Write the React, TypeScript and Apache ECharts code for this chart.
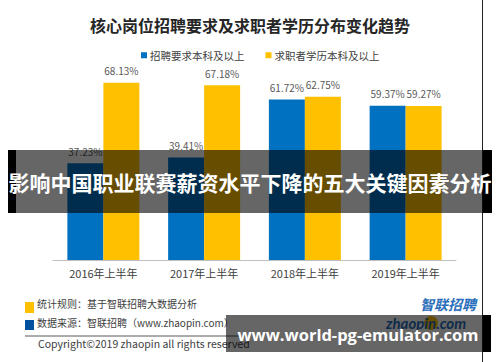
import React, { useEffect, useRef } from "react";
import * as echarts from "echarts";

const categories = ["2016年上半年", "2017年上半年", "2018年上半年", "2019年上半年"];
const seriesNames = ["招聘要求本科及以上", "求职者学历本科及以上"];
const requirementValues = [37.23, 39.41, 61.72, 59.37];
const applicantValues = [68.13, 67.18, 62.75, 59.27];
const titleText = "核心岗位招聘要求及求职者学历分布变化趋势";
const bannerText = "影响中国职业联赛薪资水平下降的五大关键因素分析";
const footerRule = "统计规则：基于智联招聘大数据分析";
const footerSource = "数据来源：智联招聘（www.zhaopin.com）";
const copyrightText = "Copyright©2019 zhaopin all rights reserved";
const siteText = "www.world-pg-emulator.com";

const FONT = "'Noto Sans CJK SC', 'Noto Sans', sans-serif";
const BLUE = "#0070c0";
const YELLOW = "#ffc000";

export default function App() {
  const ref = useRef<HTMLDivElement>(null);
  useEffect(() => {
    if (!ref.current) return;
    const chart = echarts.init(ref.current, undefined, { renderer: "svg" });
    const labelCfg = {
      show: true,
      position: "top",
      distance: 7,
      fontSize: 10,
      color: "#595959",
      fontFamily: FONT,
      formatter: (p: any) => Number(p.value).toFixed(2) + "%",
    };
    chart.setOption({
      animation: false,
      backgroundColor: "#ffffff",
      textStyle: { fontFamily: FONT },
      title: {
        text: titleText,
        left: "center",
        top: 12,
        textStyle: { fontSize: 16, fontWeight: "bold", color: "#262626", fontFamily: FONT },
      },
      legend: {
        left: 136,
        top: 45,
        icon: "rect",
        itemWidth: 6,
        itemHeight: 6,
        itemGap: 21,
        textStyle: { fontSize: 10.5, color: "#404040", fontFamily: FONT, padding: [0, 0, 0, -2] },
        data: seriesNames,
      },
      grid: { left: 53, right: 44, top: 78, bottom: 102, containLabel: false },
      xAxis: {
        type: "category",
        data: categories,
        axisLine: { lineStyle: { color: "#bfbfbf", width: 1 } },
        axisTick: { show: false },
        axisLabel: { fontSize: 11, color: "#404040", margin: 7, fontFamily: FONT },
      },
      yAxis: { type: "value", min: 0, max: 70, show: false, splitLine: { show: false } },
      series: [
        {
          name: seriesNames[0],
          type: "bar",
          data: requirementValues,
          barWidth: 36,
          barGap: "0%",
          itemStyle: { color: BLUE },
          label: labelCfg,
        },
        {
          name: seriesNames[1],
          type: "bar",
          data: applicantValues,
          barWidth: 36,
          barGap: "0%",
          itemStyle: { color: YELLOW },
          label: labelCfg,
        },
      ],
      graphic: [
        // right border
        { type: "line", z: 50, shape: { x1: 482.5, y1: 0, x2: 482.5, y2: 362 }, style: { stroke: "#222", lineWidth: 1 } },
        // footer
        { type: "rect", z: 50, shape: { x: 25, y: 302, width: 9, height: 11 }, style: { fill: YELLOW } },
        { type: "rect", z: 50, shape: { x: 25, y: 320, width: 9, height: 10 }, style: { fill: "#0050a0" } },
        {
          type: "text", z: 50, x: 37, y: 303,
          style: { text: footerRule, fontSize: 10, fill: "#404040", fontFamily: FONT, textVerticalAlign: "middle" },
        },
        {
          type: "text", z: 50, x: 37, y: 322,
          style: { text: footerSource, fontSize: 10, fill: "#404040", fontFamily: FONT, textVerticalAlign: "middle" },
        },
        { type: "line", z: 50, shape: { x1: 25, y1: 336, x2: 240, y2: 336 }, style: { stroke: "#595959", lineWidth: 1 } },
        {
          type: "text", z: 50, x: 38, y: 343,
          style: { text: copyrightText, fontSize: 10.5, fill: "#404040", fontFamily: FONT, textVerticalAlign: "middle" },
        },
        // logo
        { type: "circle", z: 50, shape: { cx: 431, cy: 323, r: 7 }, style: { fill: YELLOW } },
        {
          type: "text", z: 51, x: 420, y: 304,
          style: { text: "智联招聘", fontSize: 14, fontWeight: "bold", fontStyle: "italic", fill: "#2a6ebb", fontFamily: FONT, textVerticalAlign: "middle" },
        },
        {
          type: "text", z: 51, x: 386, y: 323,
          style: { text: "zhaopin.com", fontSize: 15, fontWeight: "bold", fontStyle: "italic", fill: "#2a6ebb", fontFamily: "Lato, 'Noto Sans', sans-serif", textVerticalAlign: "middle" },
        },
        // banner 1
        { type: "rect", z: 100, shape: { x: 8, y: 150, width: 484, height: 63 }, style: { fill: "rgba(0,0,0,0.6)" } },
        { type: "rect", z: 101, shape: { x: 8, y: 150, width: 8, height: 63 }, style: { fill: "#000" } },
        { type: "rect", z: 101, shape: { x: 483, y: 150, width: 9, height: 63 }, style: { fill: "#000" } },
        {
          type: "text", z: 102, x: 250, y: 182,
          style: { text: bannerText, fontSize: 21, fontWeight: "bold", fill: "#ffffff", fontFamily: FONT, textAlign: "center", textVerticalAlign: "middle" },
        },
        // banner 2
        { type: "rect", z: 100, shape: { x: 226, y: 315, width: 265, height: 37 }, style: { fill: "rgba(0,0,0,0.6)" } },
        { type: "rect", z: 101, shape: { x: 483, y: 315, width: 8, height: 37 }, style: { fill: "#000" } },
        {
          type: "text", z: 102, x: 358, y: 334,
          style: { text: siteText, fontSize: 16.5, fontWeight: "bold", fill: "#ffffff", fontFamily: "'Open Sans', 'Noto Sans', sans-serif", textAlign: "center", textVerticalAlign: "middle" },
        },
      ],
    });
    return () => chart.dispose();
  }, []);
  return (
    <div
      ref={ref}
      style={{ position: "absolute", left: 0, top: 0, width: 500, height: 362 }}
    />
  );
}
